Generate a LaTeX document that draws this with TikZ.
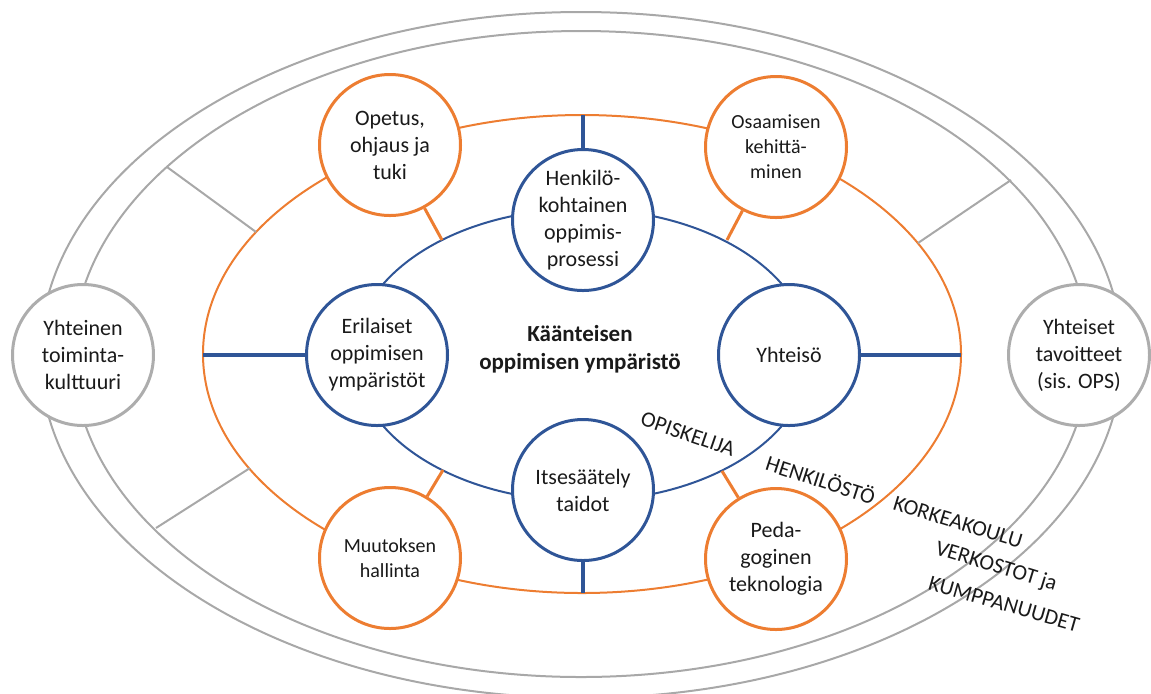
\documentclass[tikz,border=0pt]{standalone}
\usepackage{fontspec}
\setmainfont{Carlito}
\definecolor{orng}{HTML}{ED7D31}
\definecolor{blu}{HTML}{2F5597}
\definecolor{gry}{HTML}{ADADAD}
\definecolor{glin}{HTML}{A8A8A8}
\definecolor{txt}{HTML}{1A1A1A}
\begin{document}
\begin{tikzpicture}[x=0.5pt,y=-0.5pt,
  bubble/.style={circle,draw,fill=white,minimum size=70.5pt,inner sep=0pt,align=center,line width=1.5pt,text=txt},
  bigtxt/.style={font=\fontsize{11}{13.5}\selectfont},
  smalltxt/.style={font=\fontsize{10}{12.5}\selectfont},
  graybub/.style={bubble,draw=gry,bigtxt},
  bluebub/.style={bubble,draw=blu,bigtxt},
  orangebub/.style={bubble,draw=orng},
  ringlabel/.style={font=\fontsize{11}{13}\selectfont,text=txt,inner sep=0pt},
  grayring/.style={draw=glin,line width=1pt},
  orangering/.style={draw=orng,line width=1pt},
  bluering/.style={draw=blu,line width=1pt},
  blueconn/.style={draw=blu,line width=1.6pt},
  orangeconn/.style={draw=orng,line width=1.5pt},
  grayconn/.style={draw=glin,line width=1pt}
]
\useasboundingbox (0,0) rectangle (1151,693);
\clip (0,0) rectangle (1151,693);

% rings
\draw[grayring] (581,355) ellipse [x radius=541, y radius=343];
\draw[grayring] (581,354) ellipse [x radius=508, y radius=323];
\draw[orangering] (582,354) ellipse [x radius=379, y radius=239];
\draw[bluering] (582.5,355) ellipse [x radius=228, y radius=146];

% coordinates on rings
\coordinate (oeT) at (583,115);
\coordinate (oeB) at (583,593);
\coordinate (oeL) at (203,355);
\coordinate (oeR) at (961,355);
\coordinate (be1) at (442,240);
\coordinate (be2) at (727,240);
\coordinate (be3) at (443,470);
\coordinate (be4) at (722,471);
\coordinate (g1a) at (167,167);
\coordinate (g1b) at (256,232);
\coordinate (g2a) at (1011,180);
\coordinate (g2b) at (918,243);
\coordinate (g3a) at (156,528);
\coordinate (g3b) at (250,468);

% gray spokes
\draw[grayconn] (g1a) -- (g1b);
\draw[grayconn] (g2a) -- (g2b);
\draw[grayconn] (g3a) -- (g3b);

% nodes
\node[graybub] (gL) at (83,355) {Yhteinen\\toiminta-\\kulttuuri};
\node[graybub] (gR) at (1079,355) {Yhteiset\\tavoitteet\\(sis. OPS)};

\node[bluebub] (bT) at (583,220) {Henkilö-\\kohtainen\\oppimis-\\prosessi};
\node[bluebub] (bL) at (377,355) {Erilaiset\\oppimisen\\ympäristöt};
\node[bluebub] (bR) at (789,355) {Yhteisö};
\node[bluebub] (bB) at (583,490) {Itsesäätely\\taidot};

\node[orangebub,bigtxt] (oTL) at (390,145) {Opetus,\\ohjaus ja\\tuki};
\node[orangebub,smalltxt] (oTR) at (776,147) {Osaamisen\\kehittä-\\minen};
\node[orangebub,smalltxt] (oBL) at (390,558) {Muutoksen\\hallinta};
\node[orangebub,bigtxt] (oBR) at (776,559) {Peda-\\goginen\\teknologia};

\node[align=center,text=txt,font=\fontsize{11.5}{14}\selectfont\bfseries] (title) at (580,349) {Käänteisen\\oppimisen ympäristö};

% blue spokes
\draw[blueconn] (bT) -- (oeT);
\draw[blueconn] (bB) -- (oeB);
\draw[blueconn] (bL) -- (oeL);
\draw[blueconn] (bR) -- (oeR);

% orange spokes
\draw[orangeconn] (oTL) -- (be1);
\draw[orangeconn] (oTR) -- (be2);
\draw[orangeconn] (oBL) -- (be3);
\draw[orangeconn] (oBR) -- (be4);

% ring labels
\node[ringlabel,rotate=-19] (l1) at (688,434) {OPISKELIJA};
\node[ringlabel,rotate=-18] (l2) at (821,479) {HENKILÖSTÖ};
\node[ringlabel,rotate=-17] (l3) at (958,522) {KORKEAKOULU};
\node[ringlabel,rotate=-17] (l4) at (996,567) {VERKOSTOT ja};
\node[ringlabel,rotate=-16] (l5) at (1004,604) {KUMPPANUUDET};
\end{tikzpicture}
\end{document}
